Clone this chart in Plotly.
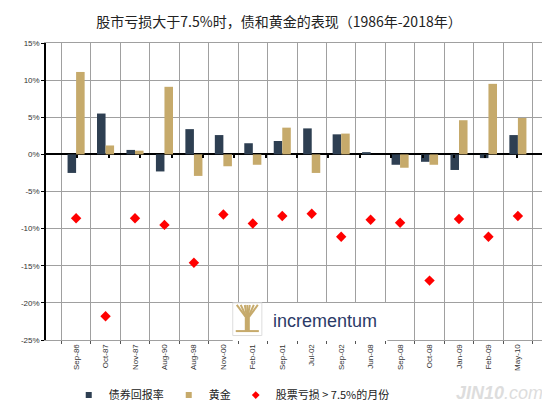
import plotly.graph_objects as go

# months when stocks fell more than 7.5%
months = ["Sep-86", "Oct-87", "Nov-87", "Aug-90", "Aug-98", "Nov-00", "Feb-01", "Sep-01",
          "Jul-02", "Sep-02", "Jun-08", "Sep-08", "Oct-08", "Jan-09", "Feb-09", "May-10"]
bonds = [-2.5, 5.5, 0.6, -2.3, 3.4, 2.6, 1.5, 1.8, 3.5, 2.7, 0.3, -1.4, -1.0, -2.1, -0.5, 2.6]
gold = [11.1, 1.2, 0.5, 9.1, -2.9, -1.6, -1.4, 3.6, -2.5, 2.8, 0.0, -1.8, -1.4, 4.6, 9.5, 4.9]
stocks = [-8.6, -21.8, -8.6, -9.5, -14.6, -8.1, -9.3, -8.3, -8.0, -11.1, -8.8, -9.2, -17.0, -8.7, -11.1, -8.3]

y_ticks = [15, 10, 5, 0, -5, -10, -15, -20, -25]

CJK = "Noto Sans CJK SC"
NAVY = "#2E3F52"
TAN = "#C6AA6B"

fig = go.Figure()
fig.add_trace(go.Bar(x=months, y=[v / 100 for v in bonds], name="债券回报率",
                     marker=dict(color=NAVY, line=dict(width=0)), showlegend=False))
fig.add_trace(go.Bar(x=months, y=[v / 100 for v in gold], name="黄金",
                     marker=dict(color=TAN, line=dict(width=0)), showlegend=False))
fig.add_trace(go.Scatter(x=months, y=[v / 100 for v in stocks], name="股票亏损 > 7.5%的月份",
                         mode="markers", marker=dict(symbol="diamond", size=8, color="#FF0000"),
                         showlegend=False))

# small legend keys like the original (parked on x2, which only draws zero-line ticks)
fig.add_trace(go.Scatter(x=[None], y=[None], mode="markers", name="债券回报率", xaxis="x2",
                         marker=dict(symbol="square", size=6, color=NAVY)))
fig.add_trace(go.Scatter(x=[None], y=[None], mode="markers", name="黄金", xaxis="x2",
                         marker=dict(symbol="square", size=6, color=TAN)))
fig.add_trace(go.Scatter(x=[None], y=[None], mode="markers", name="股票亏损 > 7.5%的月份", xaxis="x2",
                         marker=dict(symbol="diamond", size=6, color="#FF0000")))

# page body has an 8px margin, so the figure is a little smaller than the window
fig.update_layout(
    width=542, height=399,
    margin=dict(l=38, r=2, t=35, b=67, autoexpand=False),
    paper_bgcolor="white", plot_bgcolor="white",
    barmode="group", bargap=0.42, bargroupgap=0,
    title=dict(text="股市亏损大于7.5%时，债和黄金的表现（1986年-2018年）",
               x=0.5, xanchor="center", y=0.965, yanchor="middle",
               font=dict(family=CJK, size=14, color="#222")),
    font=dict(family="Liberation Sans, Arial", color="#333"),
    legend=dict(orientation="h", x=0.37, xanchor="center", yref="container", y=0.03,
                yanchor="middle", font=dict(family=CJK, size=11, color="#222"), itemwidth=30,
                bgcolor="rgba(0,0,0,0)"),
    xaxis=dict(
        type="category", tickson="boundaries", showgrid=True, gridcolor="#A0A0A0", gridwidth=1,
        tickangle=-90, tickfont=dict(size=8, color="#333"), ticks="outside", ticklen=3,
        tickcolor="#555", showline=True, linecolor="#A0A0A0", mirror=True, automargin=False,
    ),
    # extra axis only to draw the small tick marks on the zero line
    xaxis2=dict(overlaying="x", anchor="free", position=0.625, range=[-0.5, len(months) - 0.5],
                tickvals=[i + 0.5 for i in range(len(months) - 1)], showticklabels=False,
                ticks="outside", ticklen=3, tickwidth=1.5, tickcolor="#000", showgrid=False,
                showline=False, zeroline=False, automargin=False),
    yaxis=dict(
        range=[-0.25, 0.15], tickvals=[v / 100 for v in y_ticks],
        ticktext=[f"{v}%" for v in y_ticks], tickfont=dict(size=8, color="#333"),
        showgrid=True, gridcolor="#A0A0A0", gridwidth=1,
        zeroline=True, zerolinecolor="#000", zerolinewidth=1.5,
        ticks="outside", ticklen=3, tickcolor="#000",
        showline=True, linecolor="#000", linewidth=1.5, automargin=False,
    ),
)

# incrementum logo block: white panel, small tan tree, word mark
fig.add_shape(type="rect", xref="paper", yref="paper", x0=0.372, x1=0.68, y0=-0.003, y1=0.125,
              fillcolor="white", line=dict(width=0), layer="above")
fig.add_shape(type="rect", xref="paper", yref="paper", x0=0.372, x1=0.43, y0=0.015, y1=0.125,
              fillcolor="white", line=dict(color="#DDDDDD", width=1), layer="above")
fig.add_shape(type="rect", xref="paper", yref="paper", x0=0.396, x1=0.406, y0=0.03, y1=0.075,
              fillcolor=TAN, line=dict(width=0), layer="above")
for tip in [0.38, 0.388, 0.396, 0.401, 0.406, 0.414, 0.422]:
    fig.add_shape(type="line", xref="paper", yref="paper", x0=0.401, y0=0.07, x1=tip, y1=0.118,
                  line=dict(color=TAN, width=2), layer="above")
fig.add_shape(type="line", xref="paper", yref="paper", x0=0.378, y0=0.03, x1=0.424, y1=0.03,
              line=dict(color=TAN, width=2), layer="above")
fig.add_annotation(text="incrementum", xref="paper", yref="paper", x=0.448, y=0.065,
                   xanchor="left", yanchor="middle", showarrow=False,
                   font=dict(family="Liberation Sans, Arial", size=18, color="#2B3A67"))

# watermark
fig.add_annotation(text="<i><b>JIN10</b>.com</i>", xref="paper", yref="paper", x=0.994, y=-0.178,
                   xanchor="right", yanchor="middle", showarrow=False,
                   font=dict(family="Liberation Sans, Arial", size=18, color="#DDDDDD"))

fig.write_html("out.html")
